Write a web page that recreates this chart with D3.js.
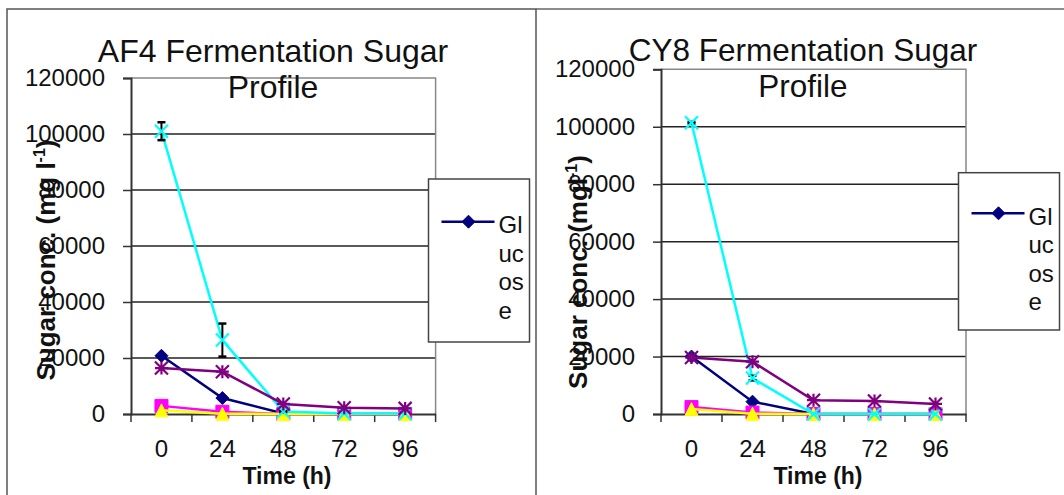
<!DOCTYPE html>
<html>
<head>
<meta charset="utf-8">
<script src="https://cdn.jsdelivr.net/npm/d3@7"></script>
<style>
  html, body { margin: 0; padding: 0; background: #fff; }
  svg { display: block; font-family: "Liberation Sans", Arial, sans-serif; }
</style>
</head>
<body>
<svg id="chart" width="1064" height="495"></svg>
<script>
// ---- data ----
const categories = ["0", "24", "48", "72", "96"];
const yTicks = [0, 20000, 40000, 60000, 80000, 100000, 120000];
const seriesNames = ["Glucose", "Series 2", "Series 3", "Series 4", "Series 5"];
const seriesColors = ["#000080", "#FF00FF", "#FFFF00", "#00FFFF", "#800080"];
const seriesMarkers = ["diamond", "square", "triangle", "x", "star"];

// AF4
const af4Glucose = [20800, 5700, 200, 0, 0];
const af4S2 = [2900, 800, 0, 0, 0];
const af4S3 = [1300, 100, 0, 0, 0];
const af4S4 = [101000, 26400, 900, 200, 200];
const af4S5 = [16400, 15100, 3600, 2200, 2000];
const af4S4Err = [3200, 5900, 300, 0, 0];

// CY8
const cy8Glucose = [20000, 4300, 0, 0, 0];
const cy8S2 = [2400, 500, 0, 0, 0];
const cy8S3 = [1700, 100, 0, 0, 0];
const cy8S4 = [101400, 12500, 0, 0, 0];
const cy8S5 = [19700, 18200, 4800, 4500, 3500];
const cy8S4Err = [300, 800, 0, 0, 0];

const svg = d3.select("#chart");

// panel frames
svg.append("rect").attr("x", 7).attr("y", 9).attr("width", 529).attr("height", 500)
  .attr("fill", "none").attr("stroke", "#555").attr("stroke-width", 1.5);
svg.append("line").attr("x1", 536).attr("x2", 1070).attr("y1", 9).attr("y2", 9)
  .attr("stroke", "#666").attr("stroke-width", 1.5);

function markerPath(type, size) {
  const s = size / 2;
  switch (type) {
    case "diamond": return `M0,${-s}L${s},0L0,${s}L${-s},0Z`;
    case "square": return `M${-s},${-s}H${s}V${s}H${-s}Z`;
    case "triangle": return `M0,${-s}L${s},${s}L${-s},${s}Z`;
    case "x": return `M${-s},${-s}L${s},${s}M${s},${-s}L${-s},${s}`;
    case "star": return `M${-s},${-s}L${s},${s}M${s},${-s}L${-s},${s}M0,${-s}V${s}M${-s},0H${s}`;
  }
}

function drawPanel(cfg) {
  const g = svg.append("g");
  const x = d3.scaleBand().domain(categories).range([cfg.left, cfg.right]);
  const y = d3.scaleLinear().domain([0, 120000]).range([cfg.bottom, cfg.top]);

  // gridlines
  g.selectAll(".grid").data(yTicks.filter(v => v > 0 && v < 120000)).join("line")
    .attr("x1", cfg.left).attr("x2", cfg.right)
    .attr("y1", d => y(d)).attr("y2", d => y(d))
    .attr("stroke", "#222").attr("stroke-width", 1.5);
  // plot border top/right
  g.append("path")
    .attr("d", `M${cfg.left},${y(120000)}H${cfg.right}V${y(0)}`)
    .attr("fill", "none").attr("stroke", "#888").attr("stroke-width", 1.5);

  // y axis
  const yAxis = g.append("g").attr("transform", `translate(${cfg.left},0)`)
    .call(d3.axisLeft(y).tickValues(yTicks).tickFormat(d3.format("d")).tickSize(8).tickPadding(18));
  yAxis.select(".domain").attr("stroke", "#333").attr("stroke-width", 2);
  yAxis.selectAll(".tick line").attr("stroke", "#333").attr("stroke-width", 1.5);
  yAxis.selectAll("text").attr("font-size", 24).attr("fill", "#111")
    .attr("font-family", "Liberation Sans, Arial, sans-serif");

  // x axis
  const xAxis = g.append("g").attr("transform", `translate(0,${cfg.bottom})`)
    .call(d3.axisBottom(x).tickSize(0).tickPadding(26));
  xAxis.select(".domain").attr("stroke", "#333").attr("stroke-width", 2);
  xAxis.selectAll("text").attr("font-size", 24).attr("fill", "#111")
    .attr("font-family", "Liberation Sans, Arial, sans-serif");
  // boundary tick marks
  const bounds = categories.map(c => x(c)).concat([cfg.right]);
  g.selectAll(".xb").data(bounds).join("line")
    .attr("x1", d => d).attr("x2", d => d)
    .attr("y1", cfg.bottom).attr("y2", cfg.bottom + 8)
    .attr("stroke", "#333").attr("stroke-width", 1.5);

  const cx = c => x(c) + x.bandwidth() / 2;

  // series
  cfg.series.forEach((vals, i) => {
    const line = d3.line().x((d, j) => cx(categories[j])).y(d => y(d));
    g.append("path").datum(vals).attr("d", line)
      .attr("fill", "none").attr("stroke", seriesColors[i]).attr("stroke-width", 2.5);
    if (i === 3) {
      // error bars
      const eg = g.append("g");
      cfg.err.forEach((e, j) => {
        if (e <= 0) return;
        const px = cx(categories[j]);
        const y1 = y(vals[j] + e), y2 = y(vals[j] - e);
        eg.append("line").attr("x1", px).attr("x2", px).attr("y1", y1).attr("y2", y2)
          .attr("stroke", "#000").attr("stroke-width", 2);
        [y1, y2].forEach(yy => eg.append("line").attr("x1", px - 4).attr("x2", px + 4)
          .attr("y1", yy).attr("y2", yy).attr("stroke", "#000").attr("stroke-width", 2.5));
      });
    }
    const filled = seriesMarkers[i] !== "x" && seriesMarkers[i] !== "star";
    g.selectAll(null).data(vals).join("path")
      .attr("transform", (d, j) => `translate(${cx(categories[j])},${y(d)})`)
      .attr("d", markerPath(seriesMarkers[i], 13))
      .attr("fill", filled ? seriesColors[i] : "none")
      .attr("stroke", seriesColors[i]).attr("stroke-width", filled ? 1 : 2.2);
  });

  // title
  const tx = cfg.titleX;
  g.append("text").attr("x", tx).attr("y", cfg.titleY1).attr("text-anchor", "middle")
    .attr("font-size", cfg.titleSize).attr("fill", "#111").text(cfg.title);
  g.append("text").attr("x", tx).attr("y", cfg.titleY2).attr("text-anchor", "middle")
    .attr("font-size", cfg.titleSize).attr("fill", "#111").text("Profile");

  // axis titles
  g.append("text").attr("x", cfg.xTitleX).attr("y", 484).attr("text-anchor", "middle")
    .attr("font-size", 23).attr("font-weight", "bold").attr("fill", "#111").text("Time (h)");
  const yt = g.append("text")
    .attr("transform", `translate(${cfg.yTitleX},${cfg.yTitleY}) rotate(-90)`)
    .attr("text-anchor", "middle").attr("font-size", 26).attr("font-weight", "bold").attr("fill", "#111");
  yt.append("tspan").text(cfg.yTitle);
  yt.append("tspan").attr("dy", -10).attr("font-size", 16).text("-1");
  yt.append("tspan").attr("dy", 10).text(")");

  // legend
  const L = cfg.legend;
  g.append("rect").attr("x", L.x).attr("y", L.y).attr("width", L.w).attr("height", L.h)
    .attr("fill", "#fff").attr("stroke", "#444").attr("stroke-width", 1.5);
  g.append("line").attr("x1", L.x + 13).attr("x2", L.x + 66).attr("y1", L.ly).attr("y2", L.ly)
    .attr("stroke", seriesColors[0]).attr("stroke-width", 2.5);
  g.append("path").attr("transform", `translate(${L.x + 40},${L.ly})`)
    .attr("d", markerPath("diamond", 13)).attr("fill", seriesColors[0]).attr("stroke", seriesColors[0]);
  const parts = ["Gl", "uc", "os", "e"];
  g.selectAll(null).data(parts).join("text")
    .attr("x", L.x + 70).attr("y", (d, k) => L.ty + k * 28.5)
    .attr("font-size", 24).attr("fill", "#111").text(d => d);
}

drawPanel({
  left: 131, right: 435.6, top: 78, bottom: 414,
  series: [af4Glucose, af4S2, af4S3, af4S4, af4S5], err: af4S4Err,
  title: "AF4 Fermentation Sugar", titleSize: 32, titleX: 273, titleY1: 62, titleY2: 98,
  xTitleX: 287, yTitleX: 55, yTitleY: 260, yTitle: "Sugar conc. (mg l",
  legend: { x: 428.5, y: 179, w: 101, h: 163, ly: 221.7, ty: 233 }
});

drawPanel({
  left: 661, right: 966, top: 69.3, bottom: 414,
  series: [cy8Glucose, cy8S2, cy8S3, cy8S4, cy8S5], err: cy8S4Err,
  title: "CY8 Fermentation Sugar", titleSize: 31.5, titleX: 803, titleY1: 61, titleY2: 97,
  xTitleX: 818, yTitleX: 587, yTitleY: 272, yTitle: "Sugar conc. (mgl",
  legend: { x: 958.5, y: 172.7, w: 101, h: 157.3, ly: 213.3, ty: 224.5 }
});
</script>
</body>
</html>
